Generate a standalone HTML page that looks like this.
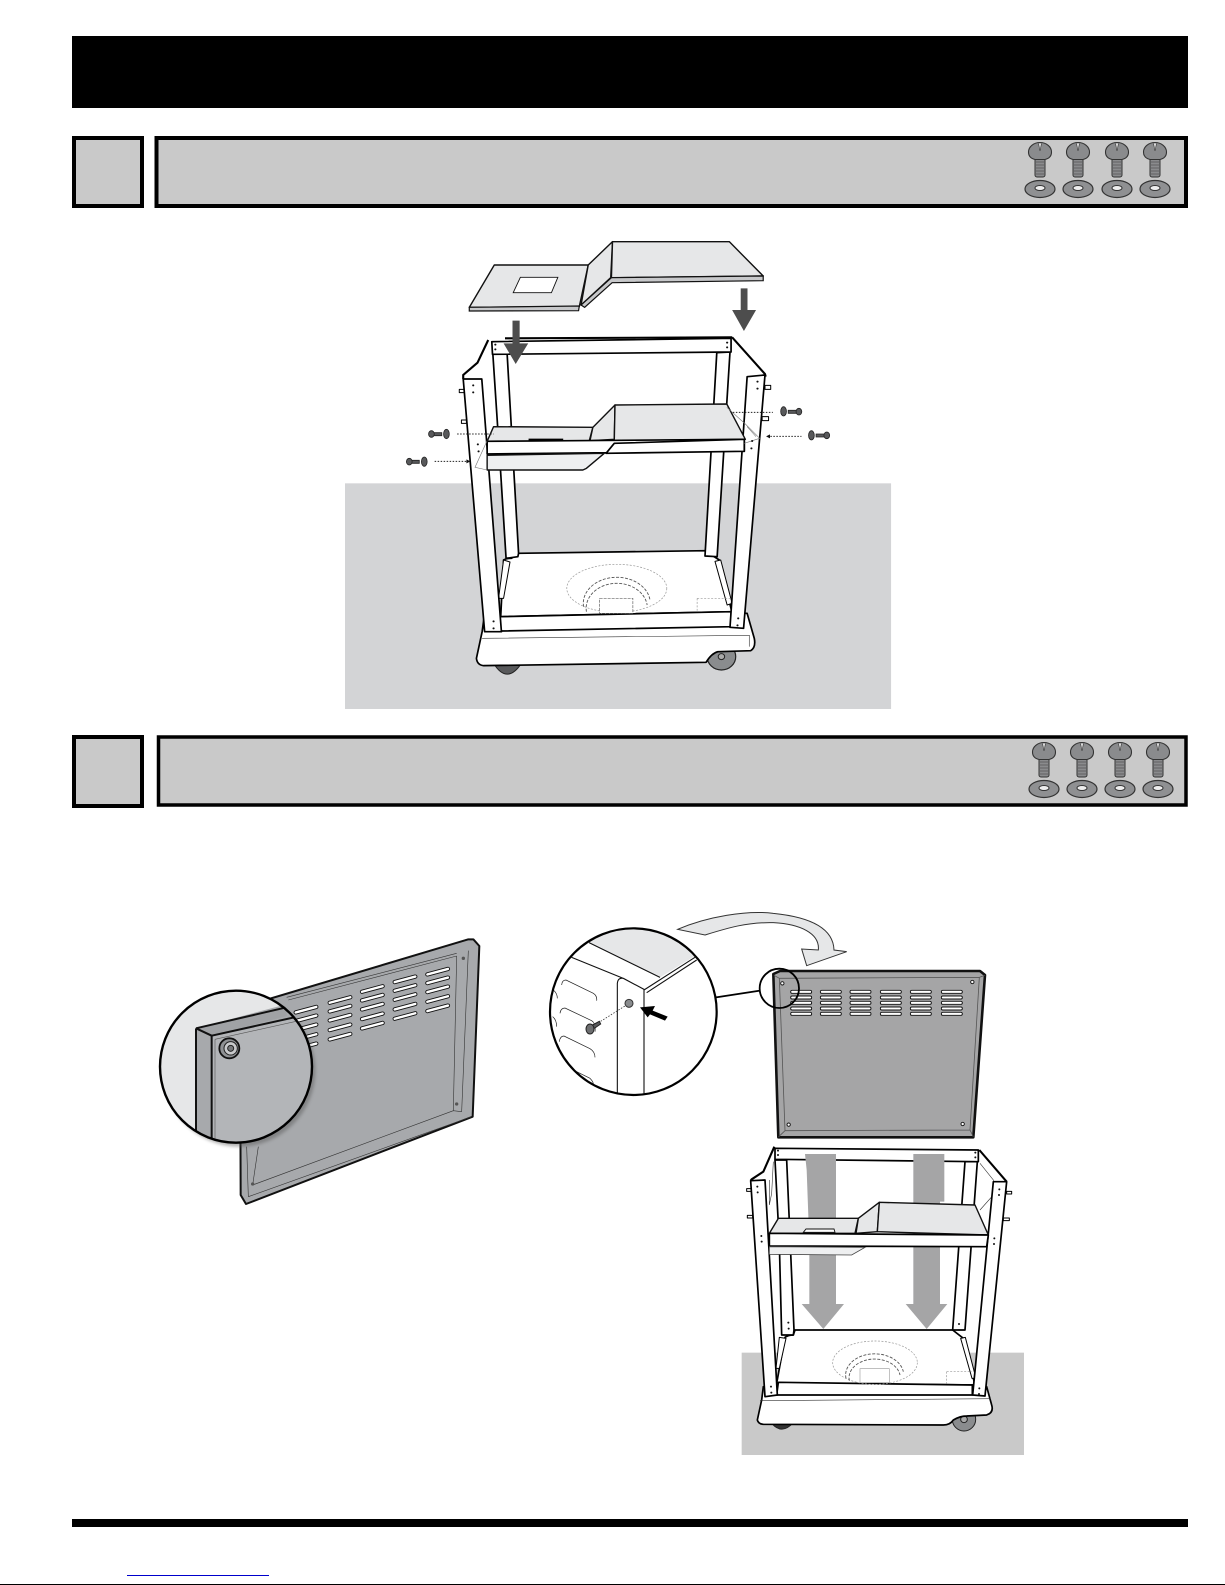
<!DOCTYPE html>
<html><head><meta charset="utf-8"><title>Assembly diagram</title>
<style>
html,body{margin:0;padding:0;background:#fff;width:1225px;height:1585px;overflow:hidden}
svg{display:block}
svg *{vector-effect:non-scaling-stroke}
.w{fill:#fff;stroke:#000;stroke-width:1.700;stroke-linejoin:round}
.l{fill:#e6e7e8;stroke:#111;stroke-width:1.400;stroke-linejoin:round}
.t{fill:none;stroke:#333;stroke-width:.6}
.k{fill:none;stroke:#000;stroke-width:2.100}
.d{fill:none;stroke:#222;stroke-width:1;stroke-dasharray:1.500 1.500}
.g{fill:none;stroke:#999;stroke-width:.7;stroke-dasharray:2 1.500}
.g2{fill:none;stroke:#555;stroke-width:.9;stroke-dasharray:3 1.500}
.s{fill:#fff;stroke:#111;stroke-width:.9}
.p{fill:#111}
</style></head><body>
<svg width="1225" height="1585" viewBox="0 0 1225 1585" xmlns="http://www.w3.org/2000/svg">
<defs>
<g id="hw">
<rect x="-5" y="6" width="10" height="19" rx="2" fill="#8a8b8d" stroke="#333" stroke-width="1"/>
<path d="M-4 10H4M-4 13H4M-4 16H4M-4 19H4M-4 22H4" stroke="#555" stroke-width=".8"/>
<path d="M-11.500 0A11.500 9.500 0 0 1 11.500 0Q11.500 6 5 7.500H-5Q-11.500 6 -11.500 0Z" fill="#8a8b8d" stroke="#333" stroke-width="1.100"/>
<path d="M-1.500 -8.500L0 -1L1.500 -8.500" fill="#ddd" stroke="#333" stroke-width=".6"/>
<ellipse cx="0" cy="37" rx="15" ry="8.500" fill="#8f9092" stroke="#333" stroke-width="1.200"/>
<ellipse cx="0" cy="36" rx="5" ry="2.500" fill="#eee" stroke="#333" stroke-width="1"/>
</g>
<clipPath id="lensA"><circle cx="288" cy="440" r="228"/></clipPath>
<clipPath id="lensB"><circle cx="280" cy="335" r="250"/></clipPath>
<filter id="bl" x="-20%" y="-20%" width="140%" height="140%"><feGaussianBlur stdDeviation="5"/></filter>
</defs>

<!-- Header and bars -->
<rect x="72" y="36" width="1116" height="72" fill="#000"/>
<rect x="74" y="138" width="68" height="68" fill="#c9c9c9" stroke="#000" stroke-width="4"/>
<rect x="156.500" y="138" width="1029.500" height="68" fill="#c9c9c9" stroke="#000" stroke-width="4"/>
<rect x="74" y="737" width="68" height="69" fill="#c9c9c9" stroke="#000" stroke-width="4"/>
<rect x="158.500" y="737" width="1027.500" height="68" fill="#c9c9c9" stroke="#000" stroke-width="3.500"/>
<use href="#hw" x="1040" y="152"/><use href="#hw" x="1078" y="152"/><use href="#hw" x="1117" y="152"/><use href="#hw" x="1155" y="152"/>
<use href="#hw" x="1044" y="752"/><use href="#hw" x="1082" y="752"/><use href="#hw" x="1120" y="752"/><use href="#hw" x="1158" y="752"/>
<rect x="72" y="1519" width="1116" height="8" fill="#000"/>
<rect x="127" y="1575" width="142" height="1" fill="#0000cc"/>
<rect x="0" y="1584" width="1225" height="1" fill="#000"/>

<!-- Cart 1 -->
<g transform="translate(340,230) scale(.35714,.33333)">
<rect x="14" y="760" width="1529" height="677" fill="#d3d4d6"/>
<path d="M430 1300Q468 1365 508 1300Z" fill="#58595b" stroke="#222"/>
<circle cx="1068" cy="1280" r="40" fill="#8a8c8e" stroke="#222" stroke-width="1.200"/>
<circle cx="1068" cy="1280" r="9" fill="#aaa" stroke="#222"/>
<path class="w" d="M405 1150L398 1205L382 1285Q384 1305 402 1307L1025 1297Q1040 1270 1058 1265L1150 1262Q1165 1252 1160 1225L1140 1150Z"/>
<path class="t" d="M398 1225L1148 1216M1146 1218L1146 1250"/>
<path class="w" d="M500 970L1022 962L1062 990L1097 1145L450 1160L458 990Q465 985 480 985Z"/>
<path class="w" d="M448 1160L1095 1145L1095 1190L450 1203Z"/>
<path class="w" d="M458 990L476 996L458 1105L444 1105Z" style="stroke-width:1"/>
<path class="w" d="M1050 994L1066 990L1098 1120L1084 1125Z" style="stroke-width:1"/>
<ellipse cx="775" cy="1075" rx="140" ry="72" class="g"/>
<path class="g2" d="M682 1130A90 75 0 0 1 868 1110M690 1145A80 70 0 0 1 860 1125"/>
<rect x="727" y="1105" width="93" height="45" fill="#fff" stroke="#666" stroke-width=".7" stroke-dasharray="3 1"/>
<path class="g" d="M1000 1105L1097 1105M1000 1105L1000 1142"/>
<path class="w" d="M428 372L468 372L500 970L498 980L465 985L450 730Z"/>
<path class="w" d="M1055 368L1092 366L1056 980L1022 978Z"/>
<path class="w" d="M425 335L1095 325L1095 366L427 373Z"/>
<path class="k" d="M462 325L1098 322M415 330L385 398L345 435L345 447M1098 322L1190 432L1192 440"/>
<path class="w" d="M334 478H348V488H334ZM340 570H354V580H340ZM1190 466H1206V478H1190ZM1182 560H1200V572H1182Z" style="stroke-width:1"/>
<path class="w" d="M345 447L397 447L452 1205L405 1205Z"/>
<path class="w" d="M1140 440L1190 435L1130 1195L1092 1192Z"/>
<path class="l" d="M430 590L708 592L698 632L412 634Z"/>
<path class="l" d="M708 592L770 525L768 628L700 632Z"/>
<path class="l" d="M770 525L1083 522L1135 628L768 632Z"/>
<path class="k" d="M528 629H625" stroke-width="2"/>
<path class="w" d="M412 634L1132 628L1132 664L768 642L750 668L412 672Z"/>
<path class="w" d="M1132 628V664L745 670L768 640Z"/>
<path class="l" d="M412 676L740 670L690 715L680 720L412 720Z" style="fill:#eeeff0"/>
<path d="M412 632L378 712L412 720M1083 532L1135 582L1175 625L1132 640M1140 590L1165 620" fill="none" stroke="#777" stroke-width=".6"/>
<path class="l" d="M432 105L695 105L670 230L362 232Z"/>
<path d="M362 232L670 228L668 242L362 243Z" fill="#c7c8ca" stroke="#111" stroke-width="1.200"/>
<path class="s" d="M505 142L610 142L592 188L485 188Z" stroke-width="1.200"/>
<path class="l" d="M695 105L763 35L758 143L675 225Z"/>
<path class="l" d="M763 35L1090 35L1185 138L760 143Z"/>
<path d="M760 143L1185 138L1185 152L762 158L685 232L675 225Z" fill="#c7c8ca" stroke="#111" stroke-width="1.200"/>
<path fill="#4d4d4d" d="M483 272H503V340H527L492 402L458 340H483Z"/>
<path fill="#4d4d4d" d="M1122 175H1141V240H1165L1131 303L1098 240H1122Z"/>
<g fill="#58595b" stroke="#222" stroke-width=".8">
<path d="M255 608H285V617H255Z"/><ellipse cx="256" cy="612" rx="8" ry="10"/><ellipse cx="298" cy="612" rx="8" ry="14"/>
<path d="M193 691H222V700H193Z"/><ellipse cx="194" cy="695" rx="8" ry="10"/><ellipse cx="236" cy="695" rx="8" ry="14"/>
<path d="M1255 541H1285V550H1255Z"/><ellipse cx="1285" cy="545" rx="8" ry="10"/><ellipse cx="1242" cy="544" rx="8" ry="14"/>
<path d="M1333 612H1363V621H1333Z"/><ellipse cx="1363" cy="616" rx="8" ry="10"/><ellipse cx="1320" cy="616" rx="8" ry="14"/>
</g>
<path class="d" d="M328 612H430M265 694H355M1100 547H1212M1205 619H1292"/>
<path class="p" d="M365 694L354 688V700ZM1193 619L1204 613V625Z"/>
<g class="p"><circle cx="435" cy="344" r="3"/><circle cx="435" cy="358" r="3"/><circle cx="1084" cy="338" r="3"/><circle cx="1084" cy="352" r="3"/><circle cx="373" cy="466" r="3"/><circle cx="373" cy="487" r="3"/><circle cx="386" cy="643" r="3"/><circle cx="388" cy="664" r="3"/><circle cx="430" cy="1174" r="3"/><circle cx="430" cy="1195" r="3"/><circle cx="1169" cy="455" r="3"/><circle cx="1169" cy="476" r="3"/><circle cx="1154" cy="633" r="3"/><circle cx="1152" cy="655" r="3"/><circle cx="1115" cy="1165" r="3"/><circle cx="1113" cy="1186" r="3"/></g>
</g>

<!-- Left panel with lens -->
<g transform="translate(140,920) scale(.33333)">
<path d="M985 58L1000 58L1018 78L998 590L318 852L302 825L300 263Z" fill="#a7a9ac" stroke="#111" stroke-width="2" stroke-linejoin="round"/>
<path d="M440 232L950 100M445 240L950 108M985 92L965 575M950 108L940 572M325 830L995 590M338 795L940 572M320 680L325 830M355 680L338 795M940 572L965 575" fill="none" stroke="#333" stroke-width=".6"/>
<g fill="#fff" stroke="#111" stroke-width=".9">
<g id="c5"><rect x="856" y="150" width="74" height="10" rx="5" transform="rotate(-15 893 155)"/><rect x="856" y="176" width="74" height="10" rx="5" transform="rotate(-15 893 181)"/><rect x="856" y="203" width="74" height="10" rx="5" transform="rotate(-15 893 208)"/><rect x="856" y="232" width="74" height="10" rx="5" transform="rotate(-15 893 237)"/><rect x="856" y="260" width="74" height="10" rx="5" transform="rotate(-15 893 265)"/></g>
<use href="#c5" x="-98" y="23"/><use href="#c5" x="-196" y="52"/><use href="#c5" x="-293" y="85"/><use href="#c5" x="-395" y="114"/>
</g>
<circle cx="298" cy="452" r="228" fill="#555" opacity=".45" filter="url(#bl)"/>
<circle cx="288" cy="440" r="228" fill="#e6e7e8"/>
<g clip-path="url(#lensA)">
<path d="M168 325L420 258L540 270L540 700L168 700Z" fill="#a7a9ac"/>
<path d="M215 350L540 275L540 700L215 700Z" fill="#b3b5b8"/>
<path d="M168 325L440 262V288L215 347Z" fill="#a0a2a5"/>
<path d="M168 325L440 262M168 325V660M215 347L540 275M215 347V660" stroke="#111" stroke-width="2" fill="none"/>
<path d="M225 358L540 288M225 358V660" stroke="#555" stroke-width=".6" fill="none"/>
<path d="M168 325L215 347" stroke="#111" stroke-width="2"/>
<circle cx="268" cy="385" r="30" fill="#8f9194" stroke="#111" stroke-width="1.800"/>
<circle cx="272" cy="385" r="20" fill="#c8c9cb" stroke="#222"/>
<circle cx="272" cy="385" r="9" fill="#77797c" stroke="#222"/>
</g>
<circle cx="288" cy="440" r="228" fill="none" stroke="#000" stroke-width="2.400"/>
<g fill="#555"><circle cx="970" cy="115" r="5"/><circle cx="950" cy="552" r="5"/><circle cx="338" cy="792" r="5"/></g>
</g>

<!-- Right top -->
<g transform="translate(540,900) scale(.33333)">
<path d="M413 88C500 50 620 30 700 40C800 50 880 80 882 150L920 155L800 197L785 147L835 150C840 100 780 72 700 68C620 66 560 85 495 105Z" fill="#e6e7e8" stroke="#333" stroke-width="1"/>
<path d="M700 222L720 213L1320 213L1335 225L1300 712L715 712Z" fill="#a5a5a6" stroke="#111" stroke-width="2.600" stroke-linejoin="round"/>
<path d="M718 235L1318 232L1290 690L735 692ZM702 226L718 235M1334 226L1318 232M716 710L735 692M1300 710L1290 690" fill="none" stroke="#555" stroke-width=".8"/>
<g fill="#fff" stroke="#111" stroke-width=".9">
<g id="row"><rect x="752" y="271" width="63" height="9" rx="4.500"/><rect x="752" y="288" width="63" height="9" rx="4.500"/><rect x="752" y="304" width="63" height="9" rx="4.500"/><rect x="752" y="321" width="63" height="9" rx="4.500"/><rect x="752" y="337" width="63" height="9" rx="4.500"/></g>
<use href="#row" x="89"/><use href="#row" x="178"/><use href="#row" x="269"/><use href="#row" x="359"/><use href="#row" x="452"/>
<circle cx="727" cy="250" r="5"/><circle cx="1297" cy="246" r="5"/><circle cx="746" cy="674" r="5"/><circle cx="1268" cy="672" r="5"/>
</g>
<circle cx="718" cy="265" r="59" fill="none" stroke="#000" stroke-width="1.800"/>
<path d="M528 292L660 272" stroke="#000" stroke-width="1.800"/>
<circle cx="280" cy="335" r="250" fill="#fff"/>
<g clip-path="url(#lensB)">
<path d="M147 128L360 232L470 165L400 60L200 60Z" fill="#e6e7e8"/>
<path d="M95 172L250 235M147 128L360 232M312 270L465 172M320 278L470 180M232 580V250Q234 232 250 235L312 268V580" fill="none" stroke="#111" stroke-width="1.100"/>
<path d="M65 255Q66 240 78 240L160 280Q172 288 170 302M60 340Q62 324 75 324L155 362Q168 370 165 395M58 425Q60 408 72 408L150 446Q165 455 165 472M110 515L150 535Q160 545 160 552M40 270Q52 280 52 295M38 350Q50 360 50 380" fill="none" stroke="#222" stroke-width=".7"/>
<circle cx="267" cy="310" r="12" fill="#8a8c8e" stroke="#333"/>
<path d="M152 378L178 364L182 372L156 390Z" fill="#58595b" stroke="#222"/>
<ellipse cx="150" cy="387" rx="12" ry="15" fill="#6d6e70" stroke="#222"/>
<path d="M182 364L258 316" stroke="#333" stroke-width=".8" stroke-dasharray="1.500 1.500"/>
<path d="M300 322L345 318L338 332L383 350L375 362L330 343L323 352Z" fill="#000"/>
</g>
<circle cx="280" cy="335" r="250" fill="none" stroke="#000" stroke-width="2.200"/>
</g>

<!-- Cart 2 -->
<g transform="translate(730,1130) scale(.33333)">
<rect x="35" y="668" width="847" height="307" fill="#c9c9c9"/>
<path d="M125 880Q155 915 188 880Z" fill="#333" stroke="#222"/>
<circle cx="702" cy="868" r="35" fill="#8a8c8e" stroke="#222"/>
<circle cx="702" cy="868" r="10" fill="#aaa" stroke="#222"/>
<path class="w" d="M100 770L95 810L82 870Q85 882 100 883L640 885Q660 885 670 870Q690 858 710 858L770 855Q792 848 785 825L770 770Z"/>
<path class="t" d="M90 812L782 806"/>
<path class="w" d="M195 600L668 600L700 625L735 765L140 760L165 622Q175 615 190 615Z"/>
<path class="w" d="M145 757L727 765L727 795L140 795Z"/>
<path class="w" d="M148 622L168 625L148 715L138 715Z" style="stroke-width:1"/>
<path class="w" d="M692 625L706 622L738 745L726 745Z" style="stroke-width:1"/>
<ellipse cx="435" cy="698" rx="127" ry="65" class="g"/>
<path class="g2" d="M348 745A85 62 0 0 1 520 725M358 752A75 55 0 0 1 510 735"/>
<rect x="390" y="716" width="88" height="42" fill="#fff" stroke="#999" stroke-width=".6"/>
<path class="g" d="M650 725H725M650 725V760"/>
<path class="w" d="M135 90L170 90L192 600L190 615L155 615L148 340Z"/>
<path class="w" d="M705 95L742 95L705 600L668 600Z"/>
<path class="w" d="M135 55L745 60L745 95L135 88Z"/>
<path class="k" d="M133 50L100 125L65 148L62 152M748 60L830 155"/>
<path class="t" d="M130 95L125 190L118 225L118 150M750 100L790 150L790 195L750 240"/>
<path class="w" d="M50 176H64V184H50ZM52 256H68V264H52ZM830 184H845V192H830ZM820 264H838V272H820Z" style="stroke-width:1"/>
<path fill="#a5a5a6" d="M225 72H318V522H342L280 597L215 522H238V340L230 120Z"/>
<path fill="#a5a5a6" d="M550 72H643V215H630V522H652L590 597L527 522H550Z"/>
<path class="w" d="M62 152L105 150L142 795L105 800Z"/>
<path class="w" d="M790 155L830 155L765 798L728 795Z"/>
<path class="l" d="M145 265L385 265L375 310L118 310Z"/>
<path class="l" d="M385 265L448 217L442 305L378 310Z"/>
<path class="l" d="M448 217L735 225L775 315L442 305Z"/>
<path class="s" d="M220 307L228 297H312L315 307Z"/>
<path class="w" d="M118 310L775 315L770 350L118 348Z"/>
<path d="M118 350L405 352L365 375L118 373Z" fill="#eeeff0" stroke="#444" stroke-width=".8"/>
<g class="p"><circle cx="144" cy="62" r="3"/><circle cx="144" cy="75" r="3"/><circle cx="736" cy="68" r="3"/><circle cx="736" cy="82" r="3"/><circle cx="82" cy="170" r="3"/><circle cx="83" cy="187" r="3"/><circle cx="94" cy="318" r="3"/><circle cx="95" cy="335" r="3"/><circle cx="123" cy="770" r="3"/><circle cx="124" cy="788" r="3"/><circle cx="808" cy="178" r="3"/><circle cx="807" cy="195" r="3"/><circle cx="793" cy="325" r="3"/><circle cx="792" cy="342" r="3"/><circle cx="748" cy="775" r="3"/><circle cx="747" cy="792" r="3"/><circle cx="175" cy="578" r="3"/><circle cx="176" cy="596" r="3"/><circle cx="687" cy="582" r="3"/><circle cx="687" cy="600" r="3"/></g>
</g>
</svg>
</body></html>
